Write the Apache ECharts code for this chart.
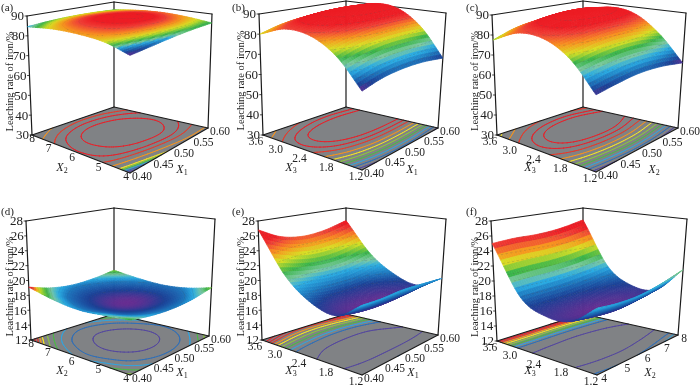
<!DOCTYPE html>
<html>
<head>
<meta charset="utf-8">
<style>html,body{margin:0;background:#fff}#chart{width:700px;height:385px}</style>
<script src="https://cdn.jsdelivr.net/npm/echarts@6/dist/echarts.min.js"></script>
</head>
<body>
<div id="chart"></div>
<script>
// tick labels
const ticksX1 = ['0.40', '0.45', '0.50', '0.55', '0.60'];
const ticksX2 = ['4', '5', '6', '7', '8'];
const ticksX3 = ['1.2', '1.8', '2.4', '3.0', '3.6'];
const ticksTop = [30, 40, 50, 60, 70, 80, 90];
const ticksBottom = [12, 14, 16, 18, 20, 22, 24, 26, 28];

// leaching rate, rows = left axis ticks (front to back), columns = right axis ticks
const zA = [
  [83, 83.8, 84.6, 85.2, 85.3],
  [86.2, 87, 87.6, 87.7, 86.8],
  [87, 88, 88.6, 88.7, 87.5],
  [86.5, 87.7, 88.3, 88, 87],
  [84.6, 85.5, 86, 86, 85.5],
];
const zB = [
  [65, 67.5, 68.5, 68.2, 66.5],
  [77.75, 80.5, 82, 82.2, 81.5],
  [84.5, 87.5, 89.2, 89.8, 89.7],
  [85.25, 88.3, 90, 90.6, 90.2],
  [80, 83, 84.8, 85.3, 84.5],
];
const zC = [
  [64.5, 66, 67, 66.3, 64],
  [77.5, 79.5, 80.5, 80, 77.5],
  [84, 87, 88.5, 88.5, 86.5],
  [84, 87.5, 89.7, 90, 88.2],
  [77.5, 81.5, 83.5, 84, 82.5],
];
const zD = [
  [18.5, 18.05, 17.85, 18, 18.6],
  [18.2, 17.5, 17.2, 17.35, 17.95],
  [17.95, 17.3, 16.95, 17.1, 17.75],
  [18.3, 17.6, 17.25, 17.4, 18.05],
  [19.1, 18.3, 17.95, 18.1, 18.6],
];
const zE = [
  [20.3, 20.2, 20.3, 20.1, 19.8],
  [18.2, 17.7, 17.5, 17.7, 18.3],
  [18.9, 18.2, 18, 18.2, 19.3],
  [21.5, 21, 20.7, 20.9, 21.7],
  [26.8, 25.4, 24.9, 25.2, 26.1],
];
const zF = [
  [19.9, 19.6, 19.6, 20.1, 21],
  [17.5, 17.1, 16.9, 17.2, 17.7],
  [17.2, 16.9, 16.7, 17, 17.6],
  [18.8, 18.9, 19, 19.3, 19.8],
  [25, 25.2, 25.2, 25.5, 26.2],
];

// values where the surface colours change, low to high
const levelsA = [83.6, 84.2, 84.7, 85, 85.4, 86.2, 87.1, 87.9, 88.4, 88.7];
const levelsB = [67, 69.5, 72, 74.5, 77, 80, 83, 85.5, 87.5, 89.5];
const levelsC = [66, 68.5, 71, 73.5, 76, 79, 82, 85, 87, 88.8];
const levelsD = [17.3, 17.8, 18.05, 18.3, 18.45, 18.75, 18.85, 18.95, 19, 19.1];
const levelsE = [18.6, 19.4, 20.3, 21, 21.8, 23, 24, 25, 25.6, 26.2];
const levelsF = [17.8, 18.8, 19.7, 20.5, 21.3, 22.6, 23.6, 24.6, 25.2, 25.8];

// contour lines on the floor
const floorA = [83.3, 83.6, 83.9, 84.1, 84.3, 84.55, 85.5, 86.4, 87.1, 87.9];
const floorB = [67, 69.5, 72, 74.5, 77, 79.5, 82, 84.5, 86.5, 88.3];
const floorC = [66, 68.5, 71, 73.5, 76, 78.5, 81, 83.5, 85.8, 87.6];
const floorD = [17.25, 17.7, 18, 18.25, 18.45, 18.65, 18.75, 18.85, 18.95, 19.05];
const floorE = [18.6, 20.3, 21, 21.7, 22.5, 23.3, 24, 24.7, 25.3, 25.9];
const floorF = [17.7, 19.6, 20.4, 21.2, 22, 22.8, 23.5, 24.1, 24.7, 25.3];

const surfaceColors = ['#662d91', '#1b3f95', '#1c75bc', '#29abe2', '#7cc9a0', '#39b54a', '#d7df23', '#f7941d', '#ef4136', '#ed1c24', '#ed1c24', '#ed1c24'];
const lineColors = ['#54479f', '#2f6fb8', '#35a3dc', '#4db848', '#8dc63f', '#f4e425', '#f7941d', '#e8392a', '#e8212a', '#e8212a'];

const panels = [
  { tag: '(a)', z: zA, levels: levelsA, floor: floorA, zTicks: ticksTop, left: ticksX2, right: ticksX1, leftName: '2', rightName: '1', labelAt: [1, 8], titleX: 10,
    L: [32, 135], F: [130, 173], R: [208, 128], B: [114, 107], TL: [27, 16], TR: [212, 14], TB: [114, 2], nameL: [62, 168], nameR: [182, 170] },
  { tag: '(b)', z: zB, levels: levelsB, floor: floorB, zTicks: ticksTop, left: ticksX3, right: ticksX1, leftName: '3', rightName: '1', labelAt: [232, 8], titleX: 241,
    L: [263, 135], F: [362, 170], R: [438, 128], B: [346, 107], TL: [259, 14], TR: [446, 13], TB: [346, 1], nameL: [291, 168], nameR: [412, 170] },
  { tag: '(c)', z: zC, levels: levelsC, floor: floorC, zTicks: ticksTop, left: ticksX3, right: ticksX1, leftName: '3', rightName: '2', labelAt: [466, 8], titleX: 475,
    L: [497, 135], F: [596, 172], R: [678, 128], B: [583, 107], TL: [492, 15], TR: [686, 13], TB: [583, 1], nameL: [530, 168], nameR: [654, 170] },
  { tag: '(d)', z: zD, levels: levelsD, floor: floorD, zTicks: ticksBottom, left: ticksX2, right: ticksX1, leftName: '2', rightName: '1', labelAt: [1, 212], titleX: 10,
    L: [31, 340], F: [130, 375], R: [209, 336], B: [114, 314], TL: [26, 221], TR: [215, 219], TB: [114, 208], nameL: [62, 371], nameR: [182, 373] },
  { tag: '(e)', z: zE, levels: levelsE, floor: floorE, zTicks: ticksBottom, left: ticksX3, right: ticksX1, leftName: '3', rightName: '1', labelAt: [232, 212], titleX: 241,
    L: [262, 340], F: [362, 375], R: [438, 335], B: [346, 314], TL: [258, 221], TR: [446, 219], TB: [346, 208], nameL: [291, 371], nameR: [413, 373] },
  { tag: '(f)', z: zF, levels: levelsF, floor: floorF, zTicks: ticksBottom, left: ticksX3, right: ticksX2, leftName: '3', rightName: '2', labelAt: [466, 212], titleX: 475,
    L: [497, 341], F: [597, 375], R: [678, 335], B: [583, 314], TL: [491, 221], TR: [687, 219], TB: [583, 208], nameL: [530, 371], nameR: [650, 373] },
];

const N = 40;
const FONT = '"Liberation Serif", "DejaVu Serif", serif';

function cr(a, b, c, d, t) {
  return 0.5 * (2 * b + (c - a) * t + (2 * a - 5 * b + 4 * c - d) * t * t + (3 * b - a - 3 * c + d) * t * t * t);
}
function smooth(arr, s) {
  const n = arr.length - 1;
  const p = Math.min(Math.floor(s * n), n - 1);
  const t = s * n - p;
  const get = (i) => (i < 0 ? 2 * arr[0] - arr[1] : i > n ? 2 * arr[n] - arr[n - 1] : arr[i]);
  return cr(get(p - 1), get(p), get(p + 1), get(p + 2), t);
}
// draw-time resample of the table for a smooth mesh
function resample(z) {
  const out = [];
  for (let j = 0; j <= N; j++) {
    const v = j / N;
    const col = z[0].map((_, c) => smooth(z.map((r) => r[c]), v));
    const row = [];
    for (let i = 0; i <= N; i++) row.push(smooth(col, i / N));
    out.push(row);
  }
  return out;
}
function hex(c) {
  return [parseInt(c.slice(1, 3), 16), parseInt(c.slice(3, 5), 16), parseInt(c.slice(5, 7), 16)];
}
function colorOf(p, z) {
  const stops = p.stops;
  let k = 0;
  while (k < stops.length - 2 && z > stops[k + 1]) k++;
  const t = Math.max(0, Math.min(1, (z - stops[k]) / (stops[k + 1] - stops[k] || 1)));
  const a = hex(surfaceColors[k]);
  const b = hex(surfaceColors[k + 1]);
  return 'rgb(' + a.map((x, n) => Math.round(x + (b[n] - x) * t)).join(',') + ')';
}
function setup(p) {
  p.mesh = resample(p.z);
  const all = p.mesh.flat();
  p.stops = [Math.min(...all)].concat(p.levels, [Math.max(...all) + 0.01]);
  const hL = p.L[1] - p.TL[1];
  const hR = p.R[1] - p.TR[1];
  const hB = p.B[1] - p.TB[1];
  p.TF = [p.F[0], p.F[1] - (hL + hR - hB) * 1.04];
  p.zMin = p.zTicks[0];
  p.zMax = p.zTicks[p.zTicks.length - 1];
}
panels.forEach(setup);

function blend(a, b, c, d, u, v) {
  // a=front, b=right, c=left, d=back
  return [0, 1].map((k) => a[k] * (1 - u) * (1 - v) + b[k] * u * (1 - v) + c[k] * (1 - u) * v + d[k] * u * v);
}
function project(p, u, v, z) {
  const f = blend(p.F, p.R, p.L, p.B, u, v);
  const t = blend(p.TF, p.TR, p.TL, p.TB, u, v);
  const s = (z - p.zMin) / (p.zMax - p.zMin);
  return [f[0] + (t[0] - f[0]) * s, f[1] + (t[1] - f[1]) * s];
}

// crossing points of one level inside one mesh cell
function cellSegments(m, i, j, lv) {
  const q = [[i, j, m[j][i]], [i + 1, j, m[j][i + 1]], [i + 1, j + 1, m[j + 1][i + 1]], [i, j + 1, m[j + 1][i]]];
  const hits = [];
  for (let k = 0; k < 4; k++) {
    const a = q[k];
    const b = q[(k + 1) % 4];
    if ((a[2] < lv) !== (b[2] < lv)) {
      const t = (lv - a[2]) / (b[2] - a[2]);
      hits.push([(a[0] + (b[0] - a[0]) * t) / N, (a[1] + (b[1] - a[1]) * t) / N]);
    }
  }
  return hits.length >= 2 ? hits.slice(0, 2) : null;
}

function renderPanel(params, api) {
  const p = panels[api.value(0)];
  const pt = (xy) => api.coord(xy);
  const kids = [];
  const line = (a, b, w, col) => {
    const s = pt(a);
    const e = pt(b);
    kids.push({ type: 'line', silent: true, shape: { x1: s[0], y1: s[1], x2: e[0], y2: e[1] }, style: { stroke: col, lineWidth: w, lineCap: 'round' } });
  };
  const text = (t, xy, opt = {}) => {
    const s = pt(xy);
    kids.push({ type: 'text', silent: true, x: s[0], y: s[1], rotation: opt.rotation || 0, style: Object.assign({ text: t, fontFamily: FONT, fontSize: 11.5, fill: '#222', align: 'center', verticalAlign: 'middle' }, opt.style) });
  };

  // walls
  const black = '#1a1a1a';
  [[p.TL, p.TB], [p.TB, p.TR], [p.B, p.TB], [p.L, p.TL], [p.R, p.TR]].forEach((e) => line(e[0], e[1], 1.2, black));

  // floor
  kids.push({ type: 'polygon', silent: true, shape: { points: [p.F, p.R, p.B, p.L].map(pt) }, style: { fill: '#808285' } });
  p.floor.forEach((lv, n) => {
    for (let j = 0; j < N; j++) {
      for (let i = 0; i < N; i++) {
        const h = cellSegments(p.mesh, i, j, lv);
        if (h) line(project(p, h[0][0], h[0][1], p.zMin), project(p, h[1][0], h[1][1], p.zMin), 1, lineColors[n]);
      }
    }
  });
  [[p.L, p.F], [p.F, p.R], [p.L, p.B], [p.B, p.R]].forEach((e) => line(e[0], e[1], 1.1, black));

  // surface, back corner first
  for (let j = N - 1; j >= 0; j--) {
    for (let i = N - 1; i >= 0; i--) {
      const m = p.mesh;
      const u0 = i / N;
      const u1 = (i + 1) / N;
      const v0 = j / N;
      const v1 = (j + 1) / N;
      const col = colorOf(p, (m[j][i] + m[j][i + 1] + m[j + 1][i] + m[j + 1][i + 1]) / 4);
      const pts = [project(p, u0, v0, m[j][i]), project(p, u1, v0, m[j][i + 1]), project(p, u1, v1, m[j + 1][i + 1]), project(p, u0, v1, m[j + 1][i])];
      kids.push({ type: 'polygon', silent: true, shape: { points: pts.map(pt) }, style: { fill: col, stroke: col, lineWidth: 0.7 } });
      if ((i + j) % 2 === 0) {
        p.levels.forEach((lv) => {
          const h = cellSegments(m, i, j, lv);
          if (!h) return;
          line(project(p, h[0][0], h[0][1], lv), project(p, h[1][0], h[1][1], lv), 0.5, 'rgba(80,80,80,0.4)');
        });
      }
    }
  }

  // z ticks
  p.zTicks.forEach((t, n) => {
    const s = n / (p.zTicks.length - 1);
    const a = [p.L[0] + (p.TL[0] - p.L[0]) * s, p.L[1] + (p.TL[1] - p.L[1]) * s];
    line(a, [a[0] - 2, a[1]], 0.8, black);
    text(String(t), [a[0] - 3, a[1] + 1], { style: { align: 'right', fontSize: 13 } });
  });
  // floor ticks, short labels sit closer to the edge
  const offLeft = p.left === ticksX2 ? [-4, -7, -9, -8, 0] : [-6, -11, -13, -12, -7];
  const yLeft = p.left === ticksX2 ? 4 : 6.5;
  p.left.forEach((t, n) => {
    const s = n / 4;
    const a = [p.F[0] + (p.L[0] - p.F[0]) * s, p.F[1] + (p.L[1] - p.F[1]) * s];
    text(t, [a[0] + offLeft[n], a[1] + yLeft]);
  });
  const offRight = p.right === ticksX2 ? [7, 10, 10, 9, 6] : [12, 14, 15, 15, 12];
  p.right.forEach((t, n) => {
    const s = n / 4;
    const a = [p.F[0] + (p.R[0] - p.F[0]) * s, p.F[1] + (p.R[1] - p.F[1]) * s];
    text(t, [a[0] + offRight[n], a[1] + 3.5]);
  });
  const rich = { i: { fontStyle: 'italic', fontFamily: FONT, fontSize: 12, fill: '#222' }, s: { fontFamily: FONT, fontSize: 8, fill: '#222', verticalAlign: 'bottom', padding: [5, 0, 0, 0] } };
  text('{i|X}{s|' + p.leftName + '}', p.nameL, { style: { rich } });
  text('{i|X}{s|' + p.rightName + '}', p.nameR, { style: { rich } });
  text('Leaching rate of iron/%', [p.titleX, (p.L[1] + p.TL[1]) / 2 + 6], { rotation: Math.PI / 2, style: { fontSize: 10.5 } });
  text(p.tag, p.labelAt, { style: { align: 'left', fontSize: 11 } });

  return { type: 'group', children: kids };
}

const chart = echarts.init(document.getElementById('chart'), null, { renderer: 'canvas' });
chart.setOption({
  backgroundColor: '#fff',
  animation: false,
  grid: { left: 0, right: 0, top: 0, bottom: 0 },
  xAxis: { type: 'value', min: 0, max: 700, show: false },
  yAxis: { type: 'value', min: 0, max: 385, inverse: true, show: false },
  series: panels.map((p, n) => ({
    type: 'custom',
    silent: true,
    clip: false,
    progressive: 0,
    coordinateSystem: 'cartesian2d',
    renderItem: renderPanel,
    encode: { x: 0 },
    data: [[n]],
  })),
});
</script>
</body>
</html>
